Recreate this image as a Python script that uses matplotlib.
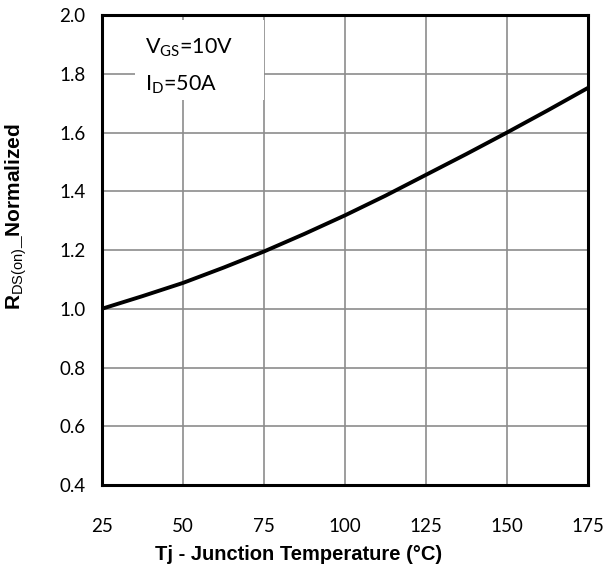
import matplotlib
matplotlib.use("Agg")
import matplotlib.pyplot as plt
from matplotlib.patches import Rectangle

# Normalized on-resistance vs junction temperature
temp_c = [25, 37.5, 50, 62.5, 75, 87.5, 100, 112.5, 125, 137.5, 150, 162.5, 175]
rds_norm = [1.00, 1.043, 1.088, 1.140, 1.195, 1.255, 1.318, 1.385, 1.456, 1.527, 1.600, 1.675, 1.752]

x_ticks = [25, 50, 75, 100, 125, 150, 175]
y_ticks = [0.4, 0.6, 0.8, 1.0, 1.2, 1.4, 1.6, 1.8, 2.0]

plt.rcParams['mathtext.fontset'] = 'custom'
plt.rcParams['mathtext.rm'] = 'Liberation Sans'
plt.rcParams['mathtext.bf'] = 'Liberation Sans:bold'

fig = plt.figure(figsize=(6.06, 5.78), dpi=100)
ax = fig.add_axes([0.1683, 0.1609, 0.8020, 0.8131])

ax.plot(temp_c, rds_norm, color='black', linewidth=2.8, solid_capstyle='butt', zorder=4)

ax.set_xlim(25, 175)
ax.set_ylim(0.4, 2.0)
ax.set_xticks(x_ticks)
ax.set_yticks(y_ticks)
ax.set_xticklabels([str(v) for v in x_ticks], family='Lato', fontsize=13.5)
ax.set_yticklabels([f"{v:.1f}" for v in y_ticks], family='Lato', fontsize=13.5)
ax.tick_params(axis='y', length=0, pad=12)
ax.tick_params(axis='x', length=0, pad=24)

ax.grid(True, color='#8c8c8c', linewidth=1.2, zorder=1)
for s in ax.spines.values():
    s.set_linewidth(2.2)
    s.set_color('black')
    s.set_zorder(5)

# condition box
ax.add_patch(Rectangle((0.068, 0.819), 0.265, 0.170, transform=ax.transAxes,
                       facecolor='white', edgecolor='none', zorder=2))
ax.text(0.088, 0.919, r'V$_{\mathregular{GS}}$=10V', transform=ax.transAxes,
        family='Lato', fontsize=15.5, va='baseline', zorder=3)
ax.text(0.088, 0.840, r'I$_{\mathregular{D}}$=50A', transform=ax.transAxes,
        family='Lato', fontsize=15.5, va='baseline', zorder=3)

fig.text(0.492, 0.040, 'Tj - Junction Temperature (°C)',
         family=['Liberation Sans Narrow', 'Liberation Sans'],
         fontweight='bold', fontsize=14.5, ha='center', va='center')
fig.text(0.027, 0.626, r'$\mathbf{R}_{\mathrm{DS(on)}}$_Normalized', rotation=90,
         family='Liberation Sans', fontweight='bold', fontsize=15, ha='center', va='center')

fig.savefig('out.png', dpi=100, facecolor='white')
